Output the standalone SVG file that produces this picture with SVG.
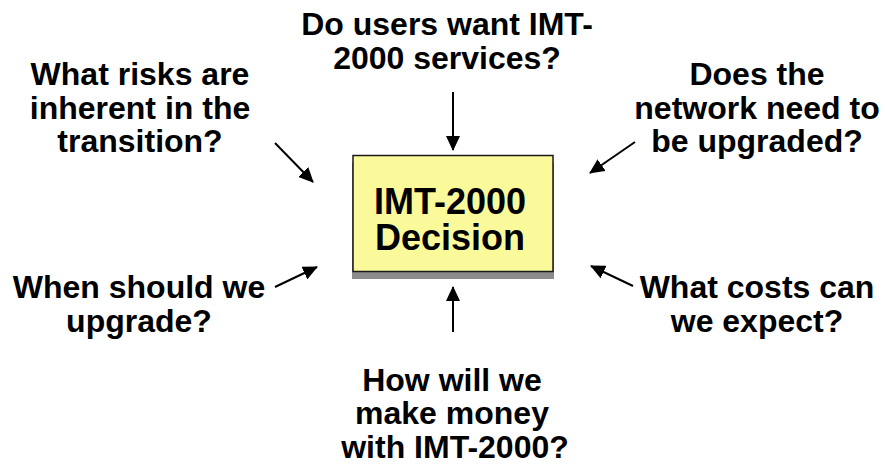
<svg xmlns="http://www.w3.org/2000/svg" width="886" height="468" viewBox="0 0 886 468">
  <style>
    .q { font-family: "Liberation Sans", Arial, sans-serif; font-weight: bold; font-size: 32px; fill: #000; text-anchor: middle; }
    .t { font-family: "Liberation Sans", Arial, sans-serif; font-weight: bold; font-size: 36px; fill: #000; text-anchor: middle; }
    .c { stroke: #000; stroke-width: 2; fill: none; marker-end: url(#head); }
  </style>
  <defs>
    <marker id="head" viewBox="0 0 15 14" refX="14" refY="7" markerWidth="15" markerHeight="14" markerUnits="userSpaceOnUse" orient="auto">
      <polygon points="0,0 15,7 0,14" fill="#000"/>
    </marker>
  </defs>
  <rect width="886" height="468" fill="#fff"/>

  <!-- central decision box with drop shadow -->
  <g id="decision">
    <rect x="352" y="163" width="202" height="116" fill="#8c8c8c"/>
    <rect x="353" y="155.5" width="200" height="116" fill="#FAFA9B" stroke="#1a1a1a" stroke-width="1.5"/>
    <text class="t" x="450" y="214">IMT-2000</text>
    <text class="t" x="450" y="250">Decision</text>
  </g>

  <g id="q-users">
    <text class="q" x="447" y="35">Do users want IMT-</text>
    <text class="q" x="447" y="69">2000 services?</text>
  </g>
  <g id="q-risks">
    <text class="q" x="140" y="85">What risks are</text>
    <text class="q" x="140" y="118.5">inherent in the</text>
    <text class="q" x="140" y="152">transition?</text>
  </g>
  <g id="q-network">
    <text class="q" x="757" y="85">Does the</text>
    <text class="q" x="757" y="118.5">network need to</text>
    <text class="q" x="757" y="152">be upgraded?</text>
  </g>
  <g id="q-when">
    <text class="q" x="139" y="298">When should we</text>
    <text class="q" x="139" y="332">upgrade?</text>
  </g>
  <g id="q-costs">
    <text class="q" x="757" y="298">What costs can</text>
    <text class="q" x="757" y="332">we expect?</text>
  </g>
  <g id="q-money">
    <text class="q" x="452" y="391">How will we</text>
    <text class="q" x="452" y="424">make money</text>
    <text class="q" x="455" y="458">with IMT-2000?</text>
  </g>

  <!-- arrows pointing at the decision -->
  <g id="connectors">
    <line class="c" x1="453" y1="92" x2="453" y2="150"/>
    <line class="c" x1="453" y1="332" x2="453" y2="287"/>
    <line class="c" x1="275" y1="143" x2="313" y2="182"/>
    <line class="c" x1="275" y1="287" x2="317" y2="267"/>
    <line class="c" x1="635" y1="142" x2="590" y2="173"/>
    <line class="c" x1="633" y1="286" x2="591" y2="266"/>
  </g>
</svg>
